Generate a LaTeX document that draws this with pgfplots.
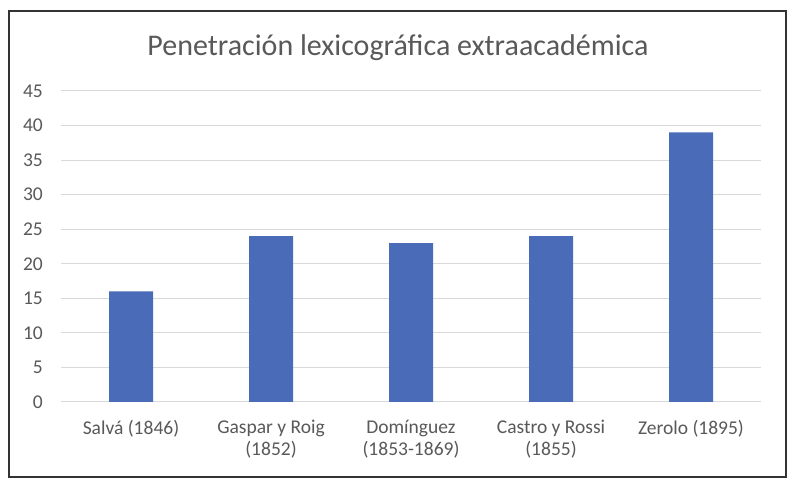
\documentclass[border=0pt]{standalone}
\usepackage{fontspec}
\setmainfont{Carlito}
\usepackage{pgfplots}
\pgfplotsset{compat=1.18}
\definecolor{barblue}{HTML}{4A6BB8}
\definecolor{txtgray}{HTML}{595959}
\definecolor{gridgray}{HTML}{D9D9D9}
\begin{document}
\begin{tikzpicture}[x=1pt,y=1pt]
\useasboundingbox (0,0) rectangle (800,494);
\fill[white] (0,0) rectangle (800,494);
\draw[line width=1.2pt, black!80] (9,17) rectangle (786,483);
\node[text=txtgray, font=\fontsize{30}{36}\selectfont] at (398,446) {Penetración lexicográfica extraacadémica};
\begin{axis}[
  at={(61pt,92pt)}, anchor=south west,
  scale only axis, width=700pt, height=311pt,
  xmin=-0.5, xmax=4.5, ymin=0, ymax=45,
  ytick={0,5,...,45},
  xtick={0,1,2,3,4},
  xticklabels={Salvá (1846),{Gaspar y Roig\\(1852)},{Domínguez\\(1853-1869)},{Castro y Rossi\\(1855)},Zerolo (1895)},
  ymajorgrids, grid style={gridgray, line width=1pt},
  axis line style={draw=none},
  axis x line*=bottom,
  x axis line style={draw=gridgray, line width=1pt},
  major tick length=0pt,
  /pgf/number format/assume math mode=true,
  tick label style={text=txtgray, font=\fontsize{19.5}{22}\selectfont},
  xticklabel style={align=center, anchor=north, inner sep=0pt, yshift=-18pt},
  yticklabel style={anchor=east, inner sep=0pt, xshift=-18pt},
  ybar, bar width=44pt,
  clip=false,
]
\addplot[fill=barblue, draw=none] coordinates {(0,16) (1,24) (2,23) (3,24) (4,39)};
\end{axis}
\end{tikzpicture}
\end{document}
